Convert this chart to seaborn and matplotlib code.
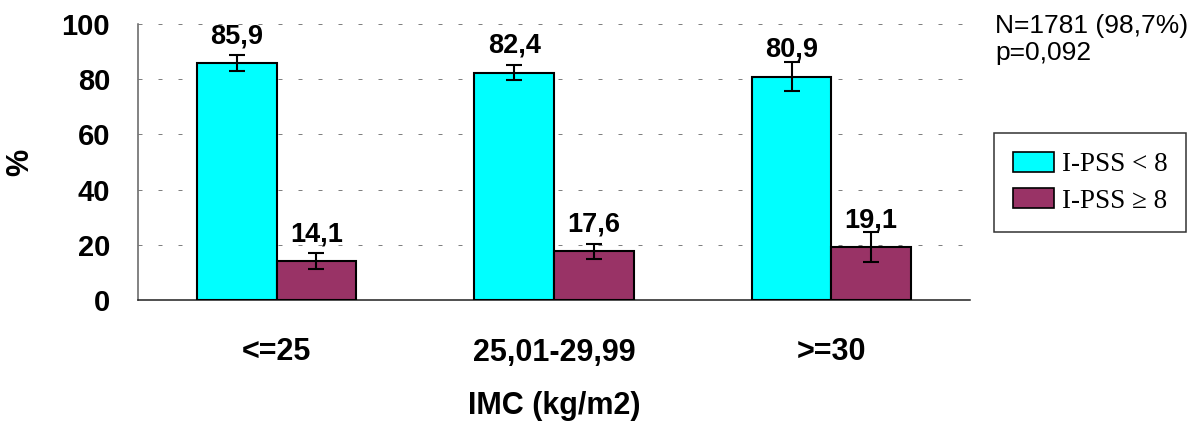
import matplotlib
matplotlib.use("Agg")
import matplotlib.pyplot as plt
from matplotlib.patches import Patch
import numpy as np
import pandas as pd
import seaborn as sns

# Data: share of patients by BMI group and I-PSS score
categories = ["<=25", "25,01-29,99", ">=30"]
series = ["I-PSS < 8", "I-PSS \u2265 8"]
pct_low = [85.9, 82.4, 80.9]      # I-PSS < 8
pct_high = [14.1, 17.6, 19.1]     # I-PSS >= 8
err_low = [2.8, 2.7, 5.3]
err_high = [2.8, 2.7, 5.4]
yticks = [0, 20, 40, 60, 80, 100]
note_lines = ["N=1781 (98,7%)", "p=0,092"]

colors = ["#00FFFF", "#993366"]

sns.set_style("white")
plt.rcParams["font.family"] = ["Liberation Sans", "DejaVu Sans"]
plt.rcParams["text.color"] = "black"
plt.rcParams["axes.labelcolor"] = "black"
plt.rcParams["xtick.labelcolor"] = "black"
plt.rcParams["ytick.labelcolor"] = "black"

df = pd.DataFrame({
    "IMC": categories * 2,
    "pct": pct_low + pct_high,
    "grupo": [series[0]] * 3 + [series[1]] * 3,
})

W, H = 1192, 428
fig = plt.figure(figsize=(W / 100, H / 100), dpi=100)
ax = fig.add_axes([138 / W, 1 - 300 / H, 832 / W, 276 / H])

sns.barplot(data=df, x="IMC", y="pct", hue="grupo", order=categories,
            hue_order=series, palette=colors, saturation=1, width=0.574,
            edgecolor="black", linewidth=1.5, errorbar=None, legend=False,
            ax=ax, zorder=3)

for cont, vals, errs in zip(ax.containers, [pct_low, pct_high], [err_low, err_high]):
    xs = [p.get_x() + p.get_width() / 2 for p in cont]
    ax.errorbar(xs, vals, yerr=errs, fmt="none", ecolor="black",
                elinewidth=1.5, capsize=5.8, capthick=1.5, zorder=4)
    ax.bar_label(cont, labels=[f"{v:.1f}".replace(".", ",") for v in vals],
                 padding=10, fontsize=19.5, fontweight="bold", color="black", zorder=5)

ax.set_xlim(-0.5, len(categories) - 0.5)
ax.set_ylim(0, 100)
ax.set_yticks(yticks)
ax.set_yticklabels([str(t) for t in yticks], fontsize=21, fontweight="bold")
ax.tick_params(axis="y", length=7, width=1.1, color="#606060", labelcolor="black",
               pad=13, direction="out")

ax.set_xticks(range(len(categories)))
ax.set_xticklabels(categories, fontsize=22, fontweight="bold")
ax.set_xticks(np.arange(-0.5, len(categories), 1.0), minor=True)
ax.tick_params(axis="x", which="major", length=0, pad=27, labelcolor="black")
ax.tick_params(axis="x", which="minor", length=6.5, width=1.1, color="#606060", direction="out")

ax.yaxis.grid(True, color="#808080", linestyle=(0, (4, 16)), linewidth=0.72)
ax.set_axisbelow(True)

for side in ("top", "right"):
    ax.spines[side].set_visible(False)
ax.spines["left"].set_color("#606060")
ax.spines["left"].set_linewidth(1.1)
ax.spines["bottom"].set_color("#202020")
ax.spines["bottom"].set_linewidth(1.1)

ax.set_xlabel("IMC (kg/m2)", fontsize=22, fontweight="bold", color="black")
ax.xaxis.set_label_coords(0.5, -0.33)
ax.set_ylabel("%", fontsize=22, fontweight="bold", color="black")
ax.yaxis.set_label_coords(-0.124, 0.5)

fig.text(995 / W, 1 - 33 / H, note_lines[0], fontsize=19, va="baseline", ha="left", color="black")
fig.text(995 / W, 1 - 60 / H, note_lines[1], fontsize=19, va="baseline", ha="left", color="black")

handles = [Patch(facecolor=c, edgecolor="black", linewidth=1.2) for c in colors]
leg = fig.legend(handles, series, loc="upper left",
                 bbox_to_anchor=(994 / W, 1 - 133 / H),
                 prop={"family": ["Liberation Serif", "DejaVu Serif"], "size": 19.5},
                 frameon=True, fancybox=False, edgecolor="black",
                 handlelength=1.5, handleheight=0.75, handletextpad=0.3,
                 labelspacing=0.4, borderpad=0.7, borderaxespad=0)
leg.get_frame().set_linewidth(1.1)
for t in leg.get_texts():
    t.set_color("black")

fig.savefig("out.png", dpi=100, facecolor="white")
